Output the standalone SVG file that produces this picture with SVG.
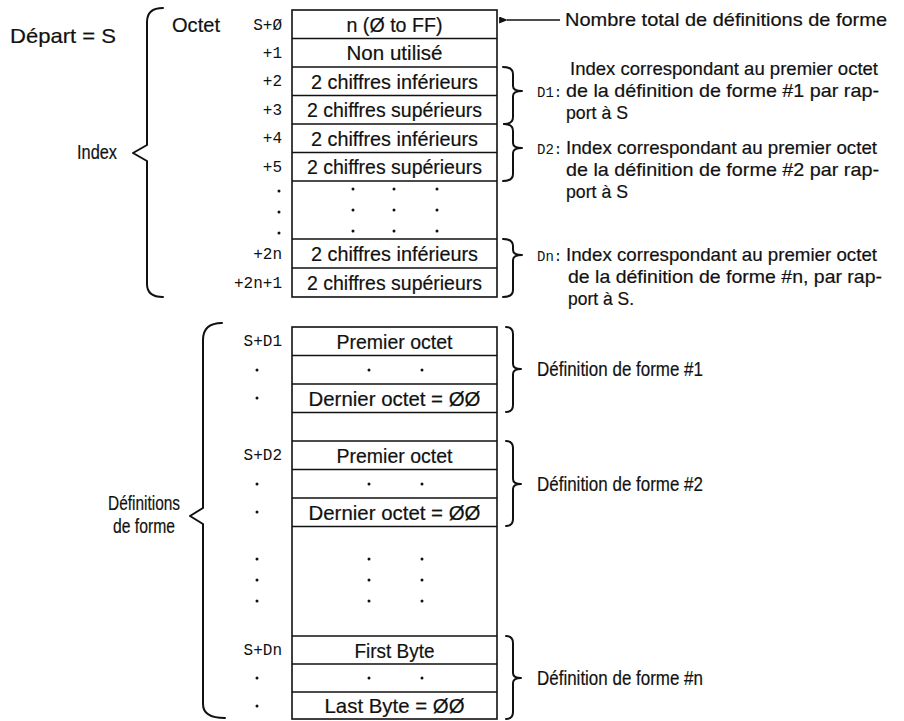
<svg xmlns="http://www.w3.org/2000/svg" width="904" height="721" viewBox="0 0 904 721">
<defs>
<style>
.t{font-family:"Liberation Sans Narrow","Liberation Sans",Arial,sans-serif;font-size:21px;fill:#111;stroke:#111;stroke-width:0.2}
.n{font-size:19px}
.c{text-anchor:middle}
.m{font-family:"Liberation Mono","DejaVu Sans Mono",monospace;font-size:16px;fill:#111;text-anchor:end}
.s{font-family:"Liberation Mono","DejaVu Sans Mono",monospace;font-size:14px;fill:#111}
.box{fill:#fff;stroke:#111;stroke-width:1.6}
.ln{stroke:#111;stroke-width:1.4;fill:none}
.br{stroke:#111;stroke-width:2;fill:none;stroke-linejoin:round;stroke-linecap:round}
.d{fill:#111}
</style>
<marker id="ah" viewBox="0 0 10 8" refX="1" refY="4" markerWidth="10" markerHeight="7" markerUnits="userSpaceOnUse" orient="auto-start-reverse">
<path d="M0,4 L10,0 L10,8 Z" fill="#111"/>
</marker>
</defs>

<g id="depart"><text class="t" x="10" y="43" textLength="106" lengthAdjust="spacingAndGlyphs">Départ = S</text></g>
<g id="octet-head"><text class="t" x="172" y="32" textLength="48" lengthAdjust="spacingAndGlyphs">Octet</text></g>

<g id="index-brace">
<path class="br" d="M163,8 Q147,8 147,22 L147,145 L133,153 L147,161 L147,284 Q147,297 163,297"/>
<text class="t" x="77" y="159" textLength="40" lengthAdjust="spacingAndGlyphs">Index</text>
</g>

<g id="defs-brace">
<path class="br" d="M222,323 Q203,323 203,340 L203,508 L190,516 L203,524 L203,704 Q203,718 225,718"/>
<text class="t c" x="144" y="510" textLength="72" lengthAdjust="spacingAndGlyphs">Définitions</text>
<text class="t c" x="144" y="533" textLength="62" lengthAdjust="spacingAndGlyphs">de forme</text>
</g>

<g id="index-table">
<rect class="box" x="292" y="10" width="205" height="287"/>
<path class="ln" d="M292,38.5H497M292,67H497M292,95.5H497M292,124H497M292,152.5H497M292,181H497M292,239H497M292,268H497"/>
<text class="t c" x="394.5" y="31.5" textLength="96" lengthAdjust="spacingAndGlyphs">n (Ø to FF)</text>
<text class="t c" x="394.5" y="60" textLength="96" lengthAdjust="spacingAndGlyphs">Non utilisé</text>
<text class="t c" x="394.5" y="88.5" textLength="167" lengthAdjust="spacingAndGlyphs">2 chiffres inférieurs</text>
<text class="t c" x="394.5" y="117" textLength="175" lengthAdjust="spacingAndGlyphs">2 chiffres supérieurs</text>
<text class="t c" x="394.5" y="145.5" textLength="167" lengthAdjust="spacingAndGlyphs">2 chiffres inférieurs</text>
<text class="t c" x="394.5" y="174" textLength="175" lengthAdjust="spacingAndGlyphs">2 chiffres supérieurs</text>
<text class="t c" x="394.5" y="261" textLength="167" lengthAdjust="spacingAndGlyphs">2 chiffres inférieurs</text>
<text class="t c" x="394.5" y="290" textLength="175" lengthAdjust="spacingAndGlyphs">2 chiffres supérieurs</text>
<g class="d">
<circle cx="353" cy="189" r="1.5"/><circle cx="394" cy="189" r="1.5"/><circle cx="437" cy="189" r="1.5"/>
<circle cx="353" cy="210" r="1.5"/><circle cx="394" cy="210" r="1.5"/><circle cx="437" cy="210" r="1.5"/>
<circle cx="353" cy="231" r="1.5"/><circle cx="394" cy="231" r="1.5"/><circle cx="437" cy="231" r="1.5"/>
</g>
</g>

<g id="index-offsets">
<text class="m" x="282" y="30">S+Ø</text>
<text class="m" x="282" y="58">+1</text>
<text class="m" x="282" y="86">+2</text>
<text class="m" x="282" y="115">+3</text>
<text class="m" x="282" y="143">+4</text>
<text class="m" x="282" y="172">+5</text>
<text class="m" x="282" y="259">+2n</text>
<text class="m" x="282" y="288">+2n+1</text>
<g class="d"><circle cx="279" cy="191" r="1.5"/><circle cx="279" cy="212" r="1.5"/><circle cx="279" cy="233" r="1.5"/></g>
</g>

<g id="shape-table">
<rect class="box" x="292" y="327" width="205" height="392"/>
<path class="ln" d="M292,355.5H497M292,384H497M292,412.5H497M292,441H497M292,469.5H497M292,498H497M292,526.5H497M292,636H497M292,664H497M292,692H497"/>
<text class="t c" x="394.5" y="348.5" textLength="116" lengthAdjust="spacingAndGlyphs">Premier octet</text>
<text class="t c" x="394.5" y="405.5" textLength="172" lengthAdjust="spacingAndGlyphs">Dernier octet = ØØ</text>
<text class="t c" x="394.5" y="462.5" textLength="116" lengthAdjust="spacingAndGlyphs">Premier octet</text>
<text class="t c" x="394.5" y="519.5" textLength="172" lengthAdjust="spacingAndGlyphs">Dernier octet = ØØ</text>
<text class="t c" x="394.5" y="657.5" textLength="80" lengthAdjust="spacingAndGlyphs">First Byte</text>
<text class="t c" x="394.5" y="713" textLength="140" lengthAdjust="spacingAndGlyphs">Last Byte = ØØ</text>
<g class="d">
<circle cx="369" cy="370" r="1.5"/><circle cx="422" cy="370" r="1.5"/>
<circle cx="369" cy="484" r="1.5"/><circle cx="422" cy="484" r="1.5"/>
<circle cx="369" cy="559" r="1.5"/><circle cx="422" cy="559" r="1.5"/>
<circle cx="369" cy="580" r="1.5"/><circle cx="422" cy="580" r="1.5"/>
<circle cx="369" cy="601" r="1.5"/><circle cx="422" cy="601" r="1.5"/>
<circle cx="369" cy="678" r="1.5"/><circle cx="422" cy="678" r="1.5"/>
</g>
</g>

<g id="shape-offsets">
<text class="m" x="282" y="346">S+D1</text>
<text class="m" x="282" y="460">S+D2</text>
<text class="m" x="282" y="655">S+Dn</text>
<g class="d">
<circle cx="257" cy="370" r="1.5"/><circle cx="257" cy="398" r="1.5"/>
<circle cx="257" cy="484" r="1.5"/><circle cx="257" cy="512" r="1.5"/>
<circle cx="257" cy="559" r="1.5"/><circle cx="257" cy="580" r="1.5"/><circle cx="257" cy="601" r="1.5"/>
<circle cx="257" cy="678" r="1.5"/><circle cx="257" cy="706" r="1.5"/>
</g>
</g>

<g id="connectors">
<line class="ln" x1="507" y1="20" x2="560" y2="20" marker-start="url(#ah)"/>
<path class="br" d="M503,67 Q513,67 513,74 L513,86 Q513,91 522,91 Q513,91 513,96 L513,117 Q513,124 504,124"/>
<path class="br" d="M504,124 Q513,124 513,131 L513,143 Q513,148 522,148 Q513,148 513,153 L513,174 Q513,181 503,181"/>
<path class="br" d="M503,239 Q513,239 513,246 L513,250 Q513,255 522,255 Q513,255 513,260 L513,290 Q513,297 503,297"/>
<path class="br" d="M506,327 Q513,327 513,334 L513,364 Q513,369 521,369 Q513,369 513,374 L513,405 Q513,412 506,412"/>
<path class="br" d="M506,441 Q513,441 513,448 L513,479 Q513,484 521,484 Q513,484 513,489 L513,519 Q513,526 506,526"/>
<path class="br" d="M506,636 Q513,636 513,643 L513,673 Q513,678 521,678 Q513,678 513,683 L513,712 Q513,719 506,719"/>
</g>

<g id="note-total"><text class="t n" x="565" y="26" textLength="322" lengthAdjust="spacingAndGlyphs">Nombre total de définitions de forme</text></g>

<g id="note-d1">
<text class="t n" x="570" y="75" textLength="308" lengthAdjust="spacingAndGlyphs">Index correspondant au premier octet</text>
<text class="s" x="537" y="97">D1:</text>
<text class="t n" x="566" y="97" textLength="313" lengthAdjust="spacingAndGlyphs">de la définition de forme #1 par rap-</text>
<text class="t n" x="566" y="119" textLength="62" lengthAdjust="spacingAndGlyphs">port à S</text>
</g>
<g id="note-d2">
<text class="s" x="537" y="154">D2:</text>
<text class="t n" x="566" y="154" textLength="311" lengthAdjust="spacingAndGlyphs">Index correspondant au premier octet</text>
<text class="t n" x="566" y="176" textLength="313" lengthAdjust="spacingAndGlyphs">de la définition de forme #2 par rap-</text>
<text class="t n" x="566" y="198" textLength="62" lengthAdjust="spacingAndGlyphs">port à S</text>
</g>
<g id="note-dn">
<text class="s" x="537" y="261">Dn:</text>
<text class="t n" x="566" y="261" textLength="311" lengthAdjust="spacingAndGlyphs">Index correspondant au premier octet</text>
<text class="t n" x="568" y="283" textLength="314" lengthAdjust="spacingAndGlyphs">de la définition de forme #n, par rap-</text>
<text class="t n" x="568" y="305" textLength="66" lengthAdjust="spacingAndGlyphs">port à S.</text>
</g>

<g id="def1"><text class="t" x="537" y="376" textLength="166" lengthAdjust="spacingAndGlyphs">Définition de forme #1</text></g>
<g id="def2"><text class="t" x="537" y="491" textLength="166" lengthAdjust="spacingAndGlyphs">Définition de forme #2</text></g>
<g id="defn"><text class="t" x="537" y="685" textLength="166" lengthAdjust="spacingAndGlyphs">Définition de forme #n</text></g>
</svg>
